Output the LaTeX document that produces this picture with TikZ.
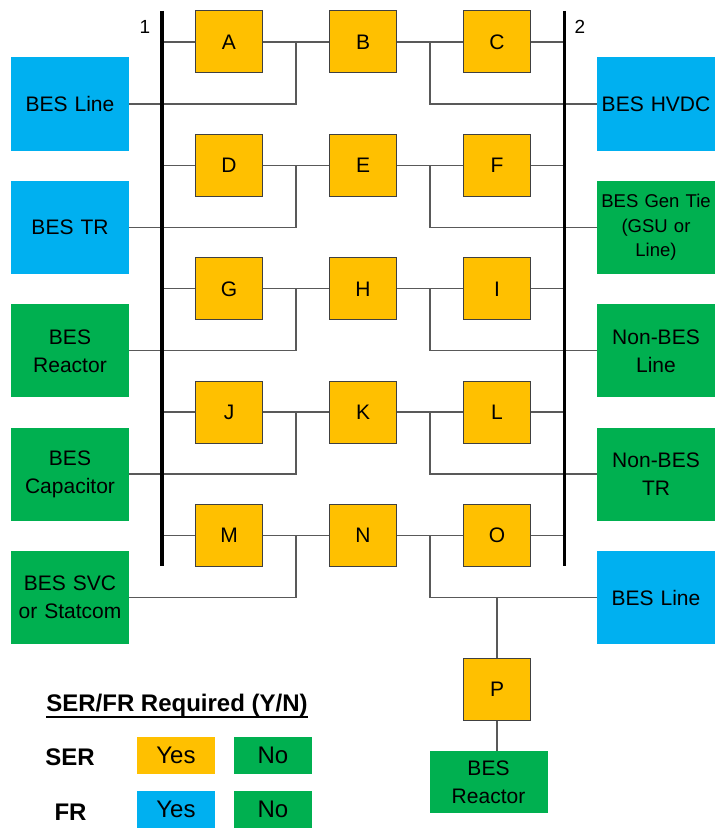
\documentclass[tikz,border=0pt]{standalone}
\usepackage{fontspec}
\setmainfont{Liberation Sans}
\usepackage{xcolor}
\usepackage{tikz}
\usetikzlibrary{positioning,calc}

\definecolor{serorange}{HTML}{FFC000}
\definecolor{frblue}{HTML}{00B0F0}
\definecolor{nogreen}{HTML}{00B050}
\definecolor{wiregray}{HTML}{595959}
\newcommand{\thickul}[1]{\setbox0\hbox{#1}\rlap{\rule[-5.9pt]{\wd0}{1.8pt}}\box0}

\begin{document}
\begin{tikzpicture}[x=1pt, y=-1pt,
            brk/.style={draw=black!75, line width=1pt, fill=serorange, minimum width=67pt, minimum height=62pt,
                 inner sep=0pt, font=\fontsize{21}{24}\selectfont},
            elem/.style={minimum width=118pt, minimum height=93pt, inner sep=0pt, text width=114pt, align=center,
                 font=\fontsize{21}{28}\selectfont},
            fr/.style={elem, fill=frblue},
            nofr/.style={elem, fill=nogreen},
            keybox/.style={minimum width=78.5pt, minimum height=37pt, inner sep=0pt, font=\fontsize{24}{28}\selectfont},
            wire/.style={draw=wiregray, line width=1.3pt},
            bus/.style={draw=black, line width=3.2pt}
            ]
            \useasboundingbox (0,0) rectangle (715,840);

            % Bus bars
            \coordinate (bus1top) at (162,11);
            \coordinate (bus1bot) at (162,566);
            \coordinate (bus2top) at (564.5,11);
            \coordinate (bus2bot) at (564.5,566);
            \node[font=\fontsize{19}{22}\selectfont] (lbl1) at (145,27) {1};
            \node[font=\fontsize{19}{22}\selectfont] (lbl2) at (580,27) {2};

            % Breakers with manual coordinates
            \node[brk] (a) at (229,42) {A};
            \node[brk] (b) at (363,42) {B};
            \node[brk] (c) at (497,42) {C};
            \node[brk] (d) at (229,165.4) {D};
            \node[brk] (e) at (363,165.4) {E};
            \node[brk] (f) at (497,165.4) {F};
            \node[brk] (g) at (229,288.8) {G};
            \node[brk] (h) at (363,288.8) {H};
            \node[brk] (i) at (497,288.8) {I};
            \node[brk] (j) at (229,412.1) {J};
            \node[brk] (k) at (363,412.1) {K};
            \node[brk] (l) at (497,412.1) {L};
            \node[brk] (m) at (229,535.5) {M};
            \node[brk] (n) at (363,535.5) {N};
            \node[brk] (o) at (497,535.5) {O};
            \node[brk] (p) at (497,689.7) {P};

            % Elements
            \node[fr] (lline) at (70,104) {BES Line};
            \node[fr] (ltr) at (70,227.4) {BES TR};
            \node[nofr] (lreact) at (70,350.8) {BES\\Reactor};
            \node[nofr] (lcap) at (70,474.1) {BES\\Capacitor};
            \node[nofr] (lsvc) at (70,597.5) {BES SVC\\or Statcom};
            \node[fr] (rhvdc) at (656,104) {BES HVDC};
            \node[nofr, font=\fontsize{18.5}{24.5}\selectfont] (rgen) at (656,227.4) {BES Gen Tie\\(GSU or\\Line)};
            \node[nofr] (rnbline) at (656,350.8) {Non-BES\\Line};
            \node[nofr] (rnbtr) at (656,474.1) {Non-BES\\TR};
            \node[fr] (rline) at (656,597.5) {BES Line};
            \node[nofr, minimum height=62.6pt] (preact) at (488.5,782) {BES\\Reactor};

            % Junctions between breakers
            \foreach \x/\y/\z in {a/b/c, d/e/f, g/h/i, j/k/l, m/n/o} {
                \coordinate (j\x) at ($(\x.east)!0.5!(\y.west)$);
                \coordinate (j\z) at ($(\y.east)!0.5!(\z.west)$);
                \draw[wire] (\x.west) -- (\x.west -| bus1top);
                \draw[wire] (\x.east) -- (\y.west);
                \draw[wire] (\y.east) -- (\z.west);
                \draw[wire] (\z.east) -- (\z.east -| bus2top);
            }

            % Lines to elements
            \draw[wire] (lline.east) -| (ja);
            \draw[wire] (ltr.east) -| (jd);
            \draw[wire] (lreact.east) -| (jg);
            \draw[wire] (lcap.east) -| (jj);
            \draw[wire] (lsvc.east) -| (jm);
            \draw[wire] (jc) |- (rhvdc.west);
            \draw[wire] (jf) |- (rgen.west);
            \draw[wire] (ji) |- (rnbline.west);
            \draw[wire] (jl) |- (rnbtr.west);
            \draw[wire] (jo) |- (rline.west);
            \draw[wire] (p.north) -- (p.north |- rline.west);
            \draw[wire] (p.south) -- (p.south |- preact.north);

            \draw[bus] (bus1top) -- (bus1bot);
            \draw[bus] (bus2top) -- (bus2bot);

            % Legend
            \node[anchor=base, font=\bfseries\fontsize{24}{28}\selectfont] (title) at (177,711.7) {\thickul{SER/FR Required (Y/N)}};
            \node[anchor=base, font=\bfseries\fontsize{24}{28}\selectfont] (serlbl) at (70,765.7) {SER};
            \node[anchor=base, font=\bfseries\fontsize{24}{28}\selectfont] (frlbl) at (70.5,820) {FR};
            \node[keybox, fill=serorange] (seryes) at (176,755.5) {Yes};
            \node[keybox, fill=nogreen, right=18pt of seryes] (serno) {No};
            \node[keybox, fill=frblue] (fryes) at (176,809.5) {Yes};
            \node[keybox, fill=nogreen, right=18pt of fryes] (frno) {No};
\end{tikzpicture}
\end{document}
